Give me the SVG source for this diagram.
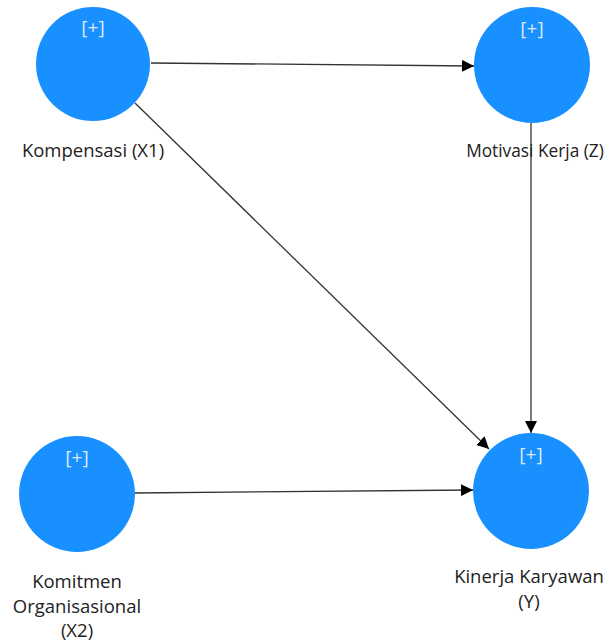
<svg xmlns="http://www.w3.org/2000/svg" width="608" height="642" viewBox="0 0 608 642">
  <style>
    .node circle { fill: #1890ff; }
    .plus { font-family: "Open Sans", "Noto Sans", sans-serif; font-size: 19px; fill: #dfe8f2; text-anchor: middle; }
    .label { font-family: "Open Sans", "Noto Sans", sans-serif; font-size: 18.5px; fill: #222; text-anchor: middle; }
    .edge { stroke: #333; stroke-width: 1.3; fill: none; marker-end: url(#arrow); }
  </style>
  <defs>
    <marker id="arrow" viewBox="0 0 12 12" refX="12" refY="6" markerWidth="12" markerHeight="12" markerUnits="userSpaceOnUse" orient="auto">
      <path d="M0,0 L12,6 L0,12 Z" fill="#000"/>
    </marker>
  </defs>
  <rect width="608" height="642" fill="#fff"/>

  <g id="connectors">
    <line class="edge" x1="151" y1="63" x2="474" y2="66"/>
    <line class="edge" x1="531" y1="123" x2="531" y2="433"/>
    <line class="edge" x1="135" y1="103" x2="489" y2="449"/>
    <line class="edge" x1="135" y1="493" x2="473" y2="490"/>
  </g>

  <g id="kompensasi" class="node">
    <circle cx="93" cy="64" r="57"/>
    <text class="plus" x="93" y="34">[+]</text>
    <text class="label" x="93" y="157">Kompensasi (X1)</text>
  </g>

  <g id="motivasi" class="node">
    <circle cx="532" cy="65" r="58"/>
    <text class="plus" x="532" y="35">[+]</text>
    <text class="label" x="535" y="157" style="font-size:17.3px">Motivasi Kerja (Z)</text>
  </g>

  <g id="komitmen" class="node">
    <circle cx="77" cy="494" r="58"/>
    <text class="plus" x="77" y="464">[+]</text>
    <text class="label" x="77" y="588">Komitmen</text>
    <text class="label" x="77" y="613">Organisasional</text>
    <text class="label" x="77" y="637">(X2)</text>
  </g>

  <g id="kinerja" class="node">
    <circle cx="531" cy="491" r="58"/>
    <text class="plus" x="531" y="461">[+]</text>
    <text class="label" x="529" y="583">Kinerja Karyawan</text>
    <text class="label" x="529" y="608">(Y)</text>
  </g>
</svg>
